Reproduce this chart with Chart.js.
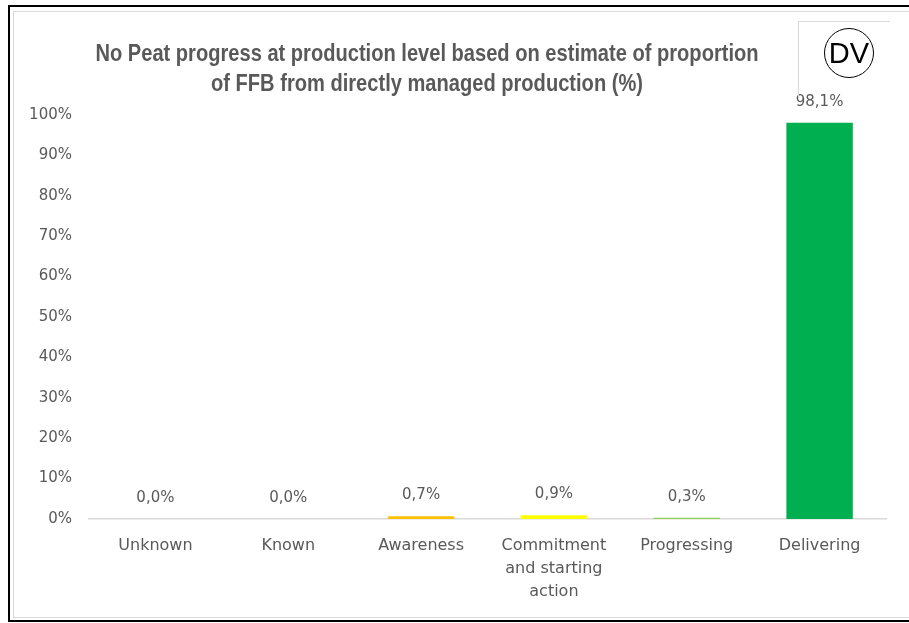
<!DOCTYPE html>
<html><head><meta charset="utf-8">
<script src="https://cdn.jsdelivr.net/npm/chart.js@4.4.0/dist/chart.umd.min.js"></script>
<style>
html,body{margin:0;padding:0;background:#fff;}
#wrap{position:relative;width:909px;height:623px;overflow:hidden;background:#fff;}
#c{position:absolute;left:0;top:0;}
.ln{position:absolute;box-sizing:border-box;}
</style></head><body>
<div id="wrap">
  <div class="ln" style="left:8px;top:5px;width:1000px;height:617px;border:2px solid #000;border-right:none;"></div>
  <div class="ln" style="left:13px;top:11px;width:1000px;height:607px;border:1px solid #d9d9d9;border-right:none;"></div>
  <canvas id="c" width="909" height="623"></canvas>
  <div class="ln" style="left:798px;top:21px;width:92px;height:76px;border-top:1px solid #d9d9d9;border-left:1px solid #d9d9d9;"></div>
  <div class="ln" style="left:824px;top:28px;width:50px;height:50px;border:1.5px solid #000;border-radius:50%;font:29px 'Liberation Sans',Arial,sans-serif;color:#000;text-align:center;line-height:48px;">DV</div>
</div>
<script>
const categories = ['Unknown', 'Known', 'Awareness', ['Commitment', 'and starting', 'action'], 'Progressing', 'Delivering'];
const values = [0.0, 0.0, 0.7, 0.9, 0.3, 98.1];
const barColors = ['#C00000', '#FF0000', '#FFC000', '#FFFF00', '#92D050', '#00B050'];
const titleLines = ['No Peat progress at production level based on estimate of proportion', 'of FFB from directly managed production (%)'];
const yTicksMax = 100;
const yTickStep = 10;

const fmt = v => v.toFixed(1).replace('.', ',') + '%';

const labelPlugin = {
  id: 'valueLabels',
  afterDatasetsDraw(chart) {
    const ctx = chart.ctx;
    const meta = chart.getDatasetMeta(0);
    ctx.save();
    ctx.font = '15px "DejaVu Sans", sans-serif';
    ctx.fillStyle = '#595959';
    ctx.textAlign = 'center';
    ctx.textBaseline = 'middle';
    meta.data.forEach((el, i) => {
      ctx.fillText(fmt(values[i]), el.x, el.y - 21);
    });
    ctx.restore();
  }
};

const titlePlugin = {
  id: 'customTitle',
  afterDraw(chart) {
    const ctx = chart.ctx;
    const sx = 0.82;
    const cx = 427;
    ctx.save();
    ctx.font = 'bold 24.5px "Liberation Sans", Arial, sans-serif';
    ctx.fillStyle = '#595959';
    ctx.textAlign = 'center';
    ctx.textBaseline = 'alphabetic';
    ctx.translate(cx, 0);
    ctx.scale(sx, 1);
    ctx.fillText(titleLines[0], 0, 61);
    ctx.fillText(titleLines[1], 0, 91);
    ctx.restore();
  }
};

new Chart(document.getElementById('c'), {
  type: 'bar',
  data: {
    labels: categories,
    datasets: [{
      data: values,
      backgroundColor: barColors,
      borderWidth: 0,
      barPercentage: 0.5,
      categoryPercentage: 1.0
    }]
  },
  options: {
    responsive: false,
    animation: false,
    devicePixelRatio: 1,
    layout: { padding: { top: 115, left: 0, right: 23, bottom: 0 } },
    plugins: { legend: { display: false }, title: { display: false }, tooltip: { enabled: false } },
    scales: {
      x: {
        grid: { display: false, drawTicks: false },
        border: { display: true, color: '#d9d9d9', width: 1.5 },
        ticks: { color: '#595959', font: { family: '"DejaVu Sans", sans-serif', size: 16, lineHeight: 1.44 }, padding: 15.5, maxRotation: 0, autoSkip: false },
        afterFit(s) { s.height = 104; }
      },
      y: {
        min: 0, max: yTicksMax,
        grid: { display: false, drawTicks: false },
        border: { display: false },
        ticks: { stepSize: yTickStep, color: '#595959', font: { family: '"DejaVu Sans", sans-serif', size: 15 }, padding: 17, callback: v => v + '%' },
        afterFit(s) { s.width = 89; }
      }
    }
  },
  plugins: [labelPlugin, titlePlugin]
});
</script>
</body></html>
